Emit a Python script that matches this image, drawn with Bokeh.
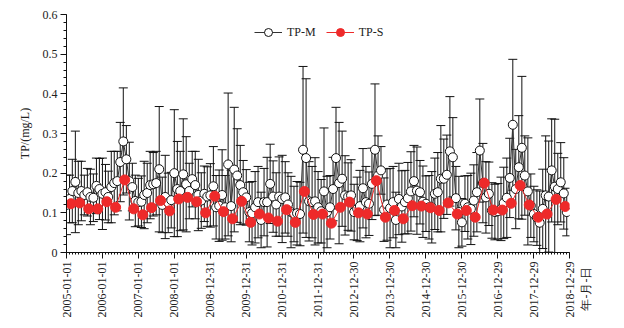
import numpy as np
import pandas as pd
from math import pi
from bokeh.plotting import figure
from bokeh.models import (ColumnDataSource, Range1d, FixedTicker, DatetimeTickFormatter,
                          Whisker, TeeHead, Legend, LegendItem, Label)
from bokeh.embed import file_html
from bokeh.resources import INLINE

# ---------------- data ----------------
months = pd.date_range("2005-01-01", periods=168, freq="MS")
seasons = pd.date_range("2005-02-01", periods=56, freq="3MS") + pd.Timedelta(days=14)

tp_m = [
    0.120, 0.135, 0.155, 0.178, 0.150, 0.155, 0.145, 0.152, 0.140, 0.138, 0.168, 0.160,
    0.148, 0.152, 0.140, 0.165, 0.175, 0.180, 0.228, 0.280, 0.235, 0.180, 0.165, 0.130,
    0.127, 0.128, 0.145, 0.150, 0.170, 0.172, 0.175, 0.210, 0.120, 0.140, 0.125, 0.132,
    0.200, 0.160, 0.155, 0.197, 0.172, 0.155, 0.185, 0.170, 0.145, 0.131, 0.148, 0.141,
    0.144, 0.167, 0.114, 0.118, 0.145, 0.114, 0.222, 0.117, 0.209, 0.194, 0.170, 0.152,
    0.139, 0.102, 0.099, 0.114, 0.127, 0.082, 0.127, 0.127, 0.173, 0.141, 0.121, 0.141,
    0.135, 0.139, 0.121, 0.102, 0.097, 0.099, 0.097, 0.259, 0.238, 0.129, 0.127, 0.129,
    0.114, 0.104, 0.154, 0.102, 0.114, 0.160, 0.238, 0.175, 0.186, 0.144, 0.141, 0.144,
    0.102, 0.110, 0.117, 0.162, 0.127, 0.123, 0.173, 0.259, 0.194, 0.207, 0.108, 0.121,
    0.112, 0.127, 0.082, 0.135, 0.116, 0.127, 0.137, 0.154, 0.180, 0.156, 0.152, 0.128,
    0.123, 0.114, 0.114, 0.148, 0.152, 0.186, 0.186, 0.196, 0.255, 0.240, 0.137, 0.102,
    0.076, 0.123, 0.114, 0.110, 0.131, 0.152, 0.257, 0.175, 0.139, 0.148, 0.106, 0.102,
    0.104, 0.110, 0.125, 0.138, 0.188, 0.322, 0.160, 0.215, 0.264, 0.194, 0.154, 0.118,
    0.097, 0.088, 0.075, 0.110, 0.144, 0.141, 0.207, 0.166, 0.160, 0.177, 0.149, 0.102,
]

tp_m_sd = [
    0.075, 0.060, 0.080, 0.128, 0.080, 0.075, 0.050, 0.060, 0.070, 0.060, 0.070, 0.077,
    0.090, 0.070, 0.065, 0.090, 0.080, 0.075, 0.100, 0.135, 0.085, 0.098, 0.060, 0.065,
    0.060, 0.065, 0.085, 0.075, 0.085, 0.080, 0.080, 0.158, 0.070, 0.105, 0.075, 0.070,
    0.160, 0.120, 0.100, 0.140, 0.120, 0.070, 0.070, 0.085, 0.090, 0.070, 0.070, 0.075,
    0.080, 0.100, 0.080, 0.090, 0.114, 0.080, 0.180, 0.090, 0.157, 0.118, 0.100, 0.080,
    0.070, 0.075, 0.080, 0.090, 0.090, 0.070, 0.085, 0.113, 0.100, 0.090, 0.080, 0.100,
    0.110, 0.090, 0.080, 0.090, 0.070, 0.080, 0.080, 0.210, 0.200, 0.100, 0.090, 0.110,
    0.090, 0.080, 0.160, 0.090, 0.080, 0.080, 0.128, 0.153, 0.120, 0.100, 0.085, 0.090,
    0.070, 0.080, 0.090, 0.100, 0.090, 0.080, 0.090, 0.166, 0.100, 0.060, 0.080, 0.090,
    0.100, 0.090, 0.070, 0.090, 0.090, 0.080, 0.090, 0.100, 0.090, 0.110, 0.080, 0.090,
    0.070, 0.080, 0.090, 0.090, 0.100, 0.134, 0.100, 0.100, 0.138, 0.100, 0.080, 0.090,
    0.060, 0.070, 0.080, 0.090, 0.090, 0.100, 0.130, 0.100, 0.090, 0.080, 0.070, 0.070,
    0.070, 0.080, 0.090, 0.100, 0.100, 0.165, 0.100, 0.130, 0.180, 0.100, 0.135, 0.080,
    0.070, 0.070, 0.080, 0.100, 0.150, 0.140, 0.130, 0.170, 0.090, 0.100, 0.090, 0.060,
]

tp_s = [
    0.123, 0.125, 0.110, 0.110, 0.128, 0.114, 0.183, 0.110, 0.095, 0.113, 0.131, 0.105,
    0.135, 0.139, 0.128, 0.100, 0.142, 0.103, 0.085, 0.129, 0.076, 0.097, 0.087, 0.079,
    0.108, 0.076, 0.154, 0.096, 0.097, 0.074, 0.114, 0.127, 0.100, 0.097, 0.181, 0.089,
    0.106, 0.085, 0.118, 0.117, 0.113, 0.106, 0.125, 0.097, 0.106, 0.089, 0.175, 0.107,
    0.107, 0.124, 0.169, 0.120, 0.089, 0.097, 0.134, 0.116,
]

y_ticks = [0, 0.1, 0.2, 0.3, 0.4, 0.5, 0.6]
x_tick_dates = pd.date_range("2005-01-01", periods=15, freq="365D")

# ---------------- figure ----------------
FONT = "Liberation Serif"
TXT = "#222222"
RED = "#EE2A2A"

m_arr = np.array(tp_m)
sd_arr = np.array(tp_m_sd)
src_m = ColumnDataSource(dict(x=months, y=m_arr, upper=m_arr + sd_arr, lower=m_arr - sd_arr))
src_s = ColumnDataSource(dict(x=seasons, y=tp_s))

x_start = x_tick_dates[0]
x_end = x_tick_dates[-1]

p = figure(width=624, height=328, x_axis_type="datetime",
           x_range=Range1d(x_start, x_end), y_range=Range1d(0, 0.6),
           output_backend="svg", toolbar_location=None,
           min_border_left=66, min_border_right=55, min_border_top=14, min_border_bottom=76)
p.outline_line_color = None
p.xgrid.visible = False
p.ygrid.visible = False
p.background_fill_color = "white"

whisk = Whisker(base="x", upper="upper", lower="lower", source=src_m,
                line_color="#111111", line_width=1,
                upper_head=TeeHead(size=9, line_color="#111111", line_width=1),
                lower_head=TeeHead(size=9, line_color="#111111", line_width=1),
                level="underlay")
p.add_layout(whisk)

m_line = p.line("x", "y", source=src_m, line_color="#333333", line_width=1)
m_pts = p.scatter("x", "y", source=src_m, size=9, marker="circle",
                  fill_color="white", line_color="#111111", line_width=1)
s_line = p.line("x", "y", source=src_s, line_color=RED, line_width=1)
s_pts = p.scatter("x", "y", source=src_s, size=10, marker="circle",
                  fill_color=RED, line_color=RED, line_width=1)

# x axis
tick_ms = [t.timestamp() * 1000 for t in x_tick_dates]
day_ms = 86400000.0
minor_ms = []
for t in tick_ms[:-1]:
    for i in range(12):
        minor_ms.append(t + i * 365 / 12 * day_ms)
minor_ms.append(tick_ms[-1])
xa = p.xaxis[0]
xa.ticker = FixedTicker(ticks=tick_ms, minor_ticks=minor_ms)
fmt = "%Y-%m-%d"
xa.formatter = DatetimeTickFormatter(days=fmt, months=fmt, years=fmt, hours=fmt,
                                     hourmin=fmt, minutes=fmt, minsec=fmt, seconds=fmt,
                                     milliseconds=fmt, microseconds=fmt)
xa.major_label_orientation = pi / 2
xa.major_tick_out = 6
xa.major_tick_in = 0
xa.minor_tick_out = 2
xa.minor_tick_in = 0
xa.major_label_standoff = 3
xa.major_label_text_font = FONT
xa.major_label_text_font_size = "12px"
xa.major_label_text_color = TXT
xa.axis_line_color = "#111111"
xa.major_tick_line_color = "#111111"
xa.minor_tick_line_color = "#111111"

# y axis
ya = p.yaxis[0]
minor_y = [round(i * 0.02, 2) for i in range(31)]
ya.ticker = FixedTicker(ticks=y_ticks, minor_ticks=minor_y)
ya.major_label_overrides = {0: "0", 0.1: "0.1", 0.2: "0.2", 0.3: "0.3", 0.4: "0.4", 0.5: "0.5", 0.6: "0.6"}
ya.major_tick_out = 6
ya.major_tick_in = 0
ya.minor_tick_out = 3
ya.minor_tick_in = 0
ya.major_label_standoff = 3
ya.major_label_text_font = FONT
ya.major_label_text_font_size = "12px"
ya.major_label_text_color = TXT
ya.axis_label = "TP/(mg/L)"
ya.axis_label_text_font = FONT
ya.axis_label_text_font_size = "12px"
ya.axis_label_text_font_style = "normal"
ya.axis_label_text_color = TXT
ya.axis_label_standoff = 8
ya.axis_line_color = "#111111"
ya.major_tick_line_color = "#111111"
ya.minor_tick_line_color = "#111111"

# legend
legend = Legend(items=[LegendItem(label="TP-M", renderers=[m_line, m_pts]),
                       LegendItem(label="TP-S", renderers=[s_line, s_pts])],
                orientation="horizontal", location=(188, 210),
                glyph_width=28, glyph_height=20, label_standoff=5, spacing=10,
                padding=0, margin=0, border_line_color=None, background_fill_alpha=0,
                label_text_font=FONT, label_text_font_size="12px", label_text_color=TXT)
p.add_layout(legend)

# x-axis unit label at the right end, placed in the right side panel
p.add_layout(Label(x=16, y=-58, x_units="screen", y_units="screen", text="年-月-日",
                   angle=pi / 2, text_align="left", text_baseline="middle",
                   text_font=FONT, text_font_size="12px", text_color=TXT), "right")

open("out.html", "w").write(file_html(p, INLINE))
